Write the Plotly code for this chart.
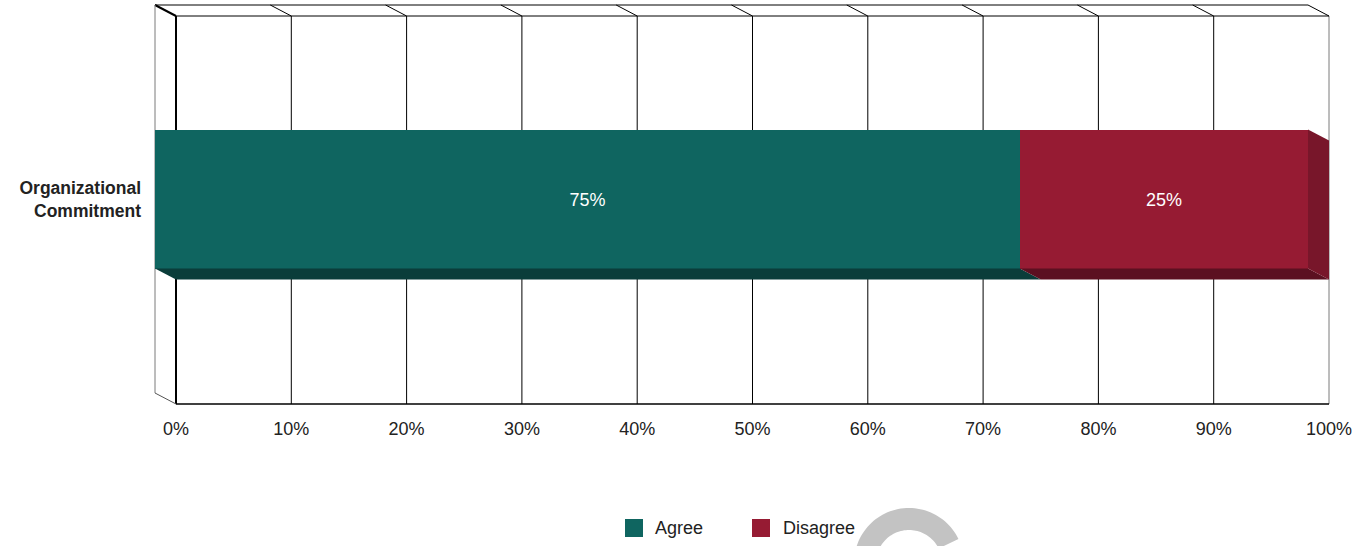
import math
import plotly.graph_objects as go

# ---- data -------------------------------------------------------------
categories = ["Organizational Commitment"]
category_labels = ["<b>Organizational</b><br><b>Commitment</b>"]
series_names = ["Agree", "Disagree"]
agree = [75]
disagree = [25]
tick_values = [0, 10, 20, 30, 40, 50, 60, 70, 80, 90, 100]
tick_labels = ["0%", "10%", "20%", "30%", "40%", "50%", "60%", "70%", "80%", "90%", "100%"]

# ---- styling ----------------------------------------------------------
FONT = "Liberation Sans, Arial, Helvetica, sans-serif"
TEXT_COLOR = "#222222"
front_colors = ["#0f6560", "#961b33"]
bottom_colors = ["#0a3d3a", "#5c1021"]
side_colors = ["#0c514d", "#78162a"]

W, H = 1372, 546
# back wall of the 3-D box, in pixels
WALL_LEFT, WALL_RIGHT = 176, 1329
WALL_TOP, WALL_BOTTOM = 16, 404
DEPTH_X, DEPTH_Y = 21, 11          # front plane sits up-left of the wall
PLOT_L, PLOT_R, PLOT_T, PLOT_B = 152, 1332, 2, 407
BAR_THICK_PX = 139

kx = (WALL_RIGHT - WALL_LEFT) / 100.0          # px per percent
ky = float(WALL_BOTTOM - WALL_TOP)             # px per category unit
yc_back = (WALL_TOP + WALL_BOTTOM) / 2.0
yc_front = yc_back - DEPTH_Y

back_xr = [(PLOT_L - WALL_LEFT) / kx, (PLOT_R - WALL_LEFT) / kx]
front_xr = [(PLOT_L - (WALL_LEFT - DEPTH_X)) / kx, (PLOT_R - (WALL_LEFT - DEPTH_X)) / kx]
back_yr = [(yc_back - PLOT_B) / ky, (yc_back - PLOT_T) / ky]
front_yr = [(yc_front - PLOT_B) / ky, (yc_front - PLOT_T) / ky]

dx = DEPTH_X / kx
dy = DEPTH_Y / ky
bw = BAR_THICK_PX / ky


def paper(px, py):
    return ((px - PLOT_L) / (PLOT_R - PLOT_L), (PLOT_B - py) / (PLOT_B - PLOT_T))


fig = go.Figure()

# ---- bars: depth faces first, then the front faces ---------------------
series = [agree, disagree]
for i, (name, vals) in enumerate(zip(series_names, series)):
    for j, _cat in enumerate(categories):
        x0 = sum(s[j] for s in series[:i])
        x1 = x0 + vals[j]
        y0 = j - bw / 2
        fig.add_trace(go.Scatter(
            x=[x0, x1, x1 + dx, x0 + dx, x0],
            y=[y0, y0, y0 - dy, y0 - dy, y0],
            mode="lines", fill="toself", fillcolor=bottom_colors[i],
            line=dict(width=0), hoverinfo="skip", showlegend=False,
            xaxis="x2", yaxis="y2"))
        if i == len(series) - 1:
            y1 = j + bw / 2
            fig.add_trace(go.Scatter(
                x=[x1, x1 + dx, x1 + dx, x1, x1],
                y=[y1, y1 - dy, y0 - dy, y0, y1],
                mode="lines", fill="toself", fillcolor=side_colors[i],
                line=dict(width=0), hoverinfo="skip", showlegend=False,
                xaxis="x2", yaxis="y2"))

for i, (name, vals) in enumerate(zip(series_names, series)):
    fig.add_trace(go.Bar(
        name=name, x=vals, y=list(range(len(categories))), orientation="h",
        width=bw, marker=dict(color=front_colors[i], line=dict(width=0)),
        text=[f"{v}%" for v in vals], textposition="inside",
        insidetextanchor="middle", textangle=0,
        textfont=dict(family=FONT, size=18, color="white"),
        showlegend=False, xaxis="x2", yaxis="y2"))

# ---- wireframe of the box ---------------------------------------------
shapes = []


def seg(x0, y0, x1, y1, color="#000000", width=1):
    shapes.append(dict(type="line", xref="x", yref="y", x0=x0, y0=y0, x1=x1, y1=y1,
                       line=dict(color=color, width=width), layer="below"))


for v in tick_values:
    if v == tick_values[0]:
        c, w = "#000000", 2
    elif v == tick_values[-1]:
        c, w = "#7a7a7a", 1
    else:
        c, w = "#000000", 1
    seg(v, -0.5, v, 0.5, c, w)
    seg(v, 0.5, v - dx, 0.5 + dy, "#000000", 2 if v == tick_values[0] else 1)

lo, hi = tick_values[0], tick_values[-1]
seg(lo, 0.5, hi, 0.5)
seg(lo - dx, 0.5 + dy, hi - dx, 0.5 + dy)
seg(lo, -0.5, hi, -0.5, "#000000", 1.5)
seg(lo - dx, 0.5 + dy, lo - dx, -0.5 + dy, "#7a7a7a", 1)
seg(lo - dx, -0.5 + dy, lo, -0.5, "#555555", 1)

# ---- legend -----------------------------------------------------------
annotations = []
legend_items = [(634, 654), (761, 782)]
for (sx, tx), name, col in zip(legend_items, series_names, front_colors):
    a0 = paper(sx - 9, 537)
    a1 = paper(sx + 9, 519)
    shapes.append(dict(type="rect", xref="paper", yref="paper",
                       x0=a0[0], y0=a0[1], x1=a1[0], y1=a1[1],
                       fillcolor=col, line=dict(width=0)))
    tp = paper(tx, 528)
    annotations.append(dict(xref="paper", yref="paper", x=tp[0], y=tp[1],
                            text=name, showarrow=False, xanchor="left",
                            yanchor="middle", xshift=-1,
                            font=dict(family=FONT, size=18, color=TEXT_COLOR)))

# ---- busy ring drawn over the lower edge ---------------------------------
cx, cy, r_out, r_in = 909, 563, 55, 33
angles = [200 - k * (200 - 26) / 60 for k in range(61)]
outer = [(cx + r_out * math.cos(math.radians(a)), cy - r_out * math.sin(math.radians(a))) for a in angles]
inner = [(cx + r_in * math.cos(math.radians(a)), cy - r_in * math.sin(math.radians(a))) for a in reversed(angles)]
pts = [paper(px, py) for px, py in outer + inner]
path = "M " + " L ".join(f"{x:.5f},{y:.5f}" for x, y in pts) + " Z"
shapes.append(dict(type="path", xref="paper", yref="paper", path=path,
                   fillcolor="#c3c3c3", line=dict(width=0), layer="above"))

fig.update_layout(
    width=W, height=H,
    margin=dict(l=PLOT_L, r=W - PLOT_R, t=PLOT_T, b=H - PLOT_B, pad=0),
    paper_bgcolor="white", plot_bgcolor="rgba(0,0,0,0)",
    barmode="stack", bargap=0, showlegend=False,
    font=dict(family=FONT, size=18, color=TEXT_COLOR),
    xaxis=dict(range=back_xr, tickvals=tick_values, ticktext=tick_labels,
               showgrid=False, zeroline=False, showline=False, ticks="",
               ticklabelstandoff=9, tickfont=dict(family=FONT, size=18, color=TEXT_COLOR),
               fixedrange=True),
    yaxis=dict(range=back_yr, showgrid=False, zeroline=False, showline=False,
               showticklabels=False, ticks="", fixedrange=True),
    xaxis2=dict(range=front_xr, overlaying="x", showgrid=False, zeroline=False,
                showline=False, showticklabels=False, ticks="", fixedrange=True),
    yaxis2=dict(range=front_yr, overlaying="y", showgrid=False, zeroline=False,
                showline=False, tickvals=list(range(len(categories))),
                ticktext=category_labels, ticks="", ticklabelstandoff=10,
                tickfont=dict(family=FONT, size=17.5, color=TEXT_COLOR),
                fixedrange=True),
    shapes=shapes, annotations=annotations,
)

fig.write_html("out.html")
